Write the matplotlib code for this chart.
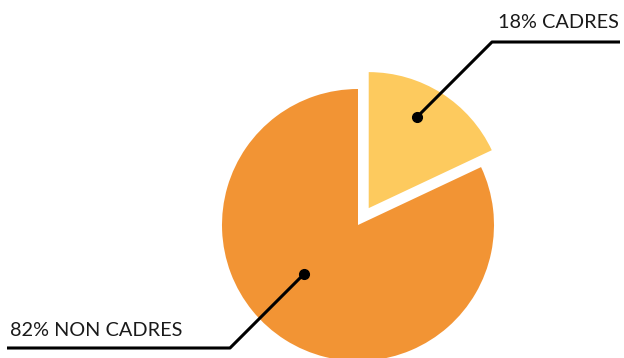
import matplotlib
matplotlib.use("Agg")
import matplotlib.pyplot as plt

labels = ["CADRES", "NON CADRES"]
shares = [18, 82]
colors = ["#FDCA5E", "#F29434"]

W, H = 624, 358
fig = plt.figure(figsize=(W / 100, H / 100), dpi=100)
ax = fig.add_axes([0, 0, 1, 1])

cx, cy, r = 358, H - 225, 136
# explode is in data units here (pixels)
ax.pie(shares, colors=colors, startangle=90, counterclock=False,
       center=(cx, cy), radius=r, explode=[20, 0],
       wedgeprops=dict(linewidth=0), frame=True)
ax.set_xlim(0, W)
ax.set_ylim(0, H)
ax.set_aspect("equal")
ax.axis("off")

# leader lines: (dot, elbow, end, text position, alignment)
leaders = [
    ((417, 117), (492, 42), (620, 42), (619, 28), "right"),
    ((304, 274), (230, 348), (7, 348), (10, 336), "left"),
]
for (lab, val), (dot, elbow, end, tpos, ha) in zip(zip(labels, shares), leaders):
    xs = [dot[0], elbow[0], end[0]]
    ys = [H - dot[1], H - elbow[1], H - end[1]]
    ax.plot(xs, ys, color="black", lw=2.2, solid_capstyle="butt", zorder=3)
    ax.plot(dot[0], H - dot[1], "o", color="black", ms=7, zorder=4)
    ax.text(tpos[0], H - tpos[1], f"{val}% {lab}", ha=ha, va="baseline",
            fontsize=14.3, family="Lato", color="#1a1a1a")

fig.savefig("out.png", dpi=100)
